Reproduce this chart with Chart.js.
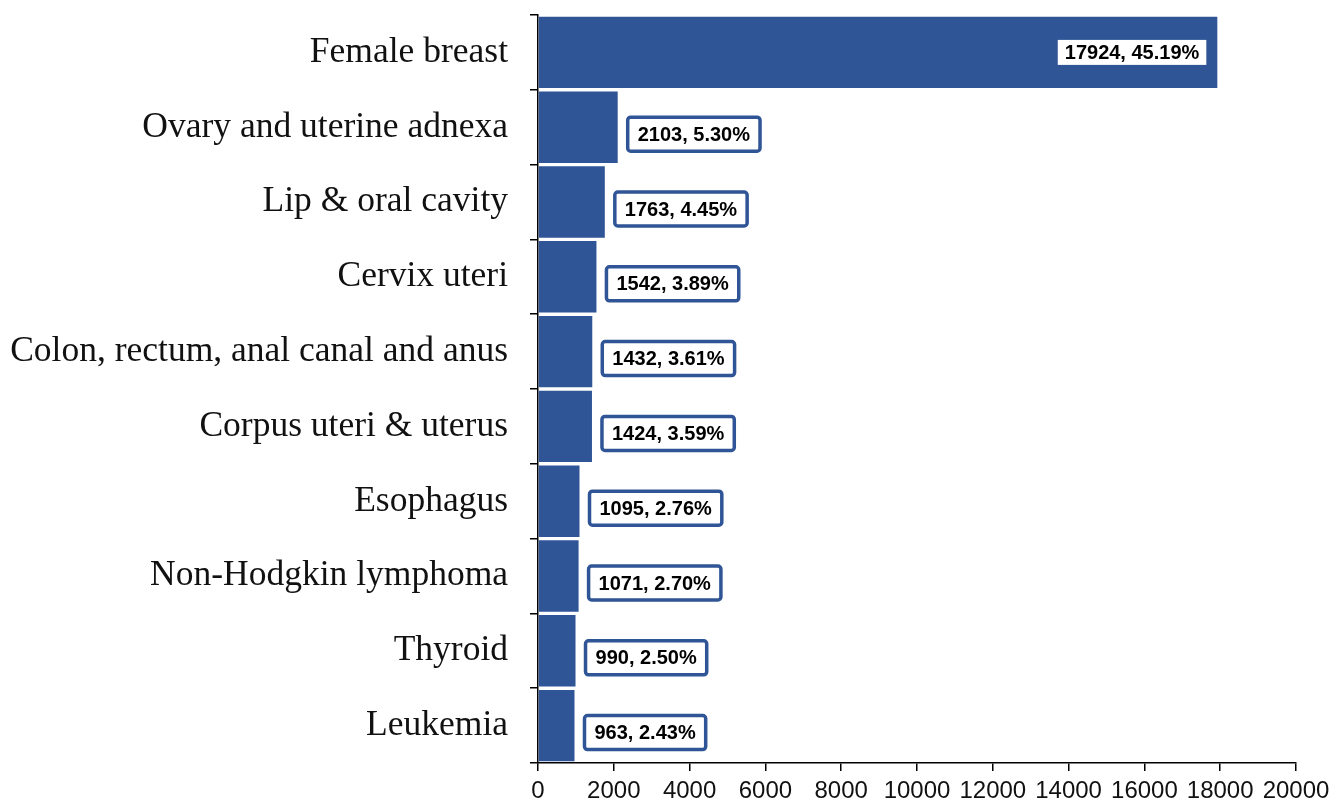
<!DOCTYPE html>
<html lang="en">
<head>
<meta charset="UTF-8">
<title>Cancer cases</title>
<script src="https://cdn.jsdelivr.net/npm/chart.js"></script>
<style>
    body { margin: 0; padding: 0; background: #ffffff; }
    #wrap { width: 1332px; height: 803px; position: relative; }
</style>
</head>
<body>
<div id="wrap"><canvas id="chart"></canvas></div>
<script>
    const categories = [
        'Female breast',
        'Ovary and uterine adnexa',
        'Lip & oral cavity',
        'Cervix uteri',
        'Colon, rectum, anal canal and anus',
        'Corpus uteri & uterus',
        'Esophagus',
        'Non-Hodgkin lymphoma',
        'Thyroid',
        'Leukemia'
    ];
    const cases = [17924, 2103, 1763, 1542, 1432, 1424, 1095, 1071, 990, 963];
    const percents = ['45.19%', '5.30%', '4.45%', '3.89%', '3.61%', '3.59%', '2.76%', '2.70%', '2.50%', '2.43%'];
    const xTicks = [0, 2000, 4000, 6000, 8000, 10000, 12000, 14000, 16000, 18000, 20000];

    const blue = '#2F5597';

    // draws the "count, percent" boxes next to (or inside) each bar
    const boxLabels = {
        id: 'boxLabels',
        afterDatasetsDraw(chart) {
            const ctx = chart.ctx;
            const meta = chart.getDatasetMeta(0);
            ctx.save();
            ctx.font = 'bold 20px "Liberation Sans", Arial, sans-serif';
            ctx.textBaseline = 'middle';
            ctx.textAlign = 'center';
            meta.data.forEach((bar, i) => {
                const text = cases[i] + ', ' + percents[i];
                const tw = ctx.measureText(text).width;
                if (i === 0) {
                    const w = tw + 14, h = 25;
                    const x = bar.x - 11 - w;
                    ctx.fillStyle = '#ffffff';
                    ctx.fillRect(x, bar.y - h / 2, w, h);
                    ctx.fillStyle = '#000';
                    ctx.fillText(text, x + w / 2, bar.y + 1);
                } else {
                    const w = tw + 20, h = 34;
                    const x = bar.x + 10;
                    const cy = bar.y + 7;
                    ctx.lineWidth = 3.5;
                    ctx.strokeStyle = blue;
                    ctx.fillStyle = '#ffffff';
                    ctx.beginPath();
                    ctx.roundRect(x, cy - h / 2, w, h, 3);
                    ctx.fill();
                    ctx.stroke();
                    ctx.fillStyle = '#000';
                    ctx.fillText(text, x + w / 2, cy + 1);
                }
            });
            ctx.restore();
        }
    };

    new Chart(document.getElementById('chart'), {
        type: 'bar',
        data: {
            labels: categories,
            datasets: [{
                data: cases,
                backgroundColor: blue,
                borderWidth: 0,
                barPercentage: 1,
                categoryPercentage: 0.955
            }]
        },
        options: {
            indexAxis: 'y',
            responsive: true,
            maintainAspectRatio: false,
            animation: false,
            events: [],
            layout: { padding: { top: 15, right: 36, left: 0, bottom: 0 } },
            plugins: { legend: { display: false }, tooltip: { enabled: false } },
            scales: {
                x: {
                    min: 0,
                    max: 20000,
                    afterBuildTicks: s => { s.ticks = xTicks.map(v => ({ value: v })); },
                    afterFit: s => { s.height = 40; s.paddingRight = 0; },
                    grid: { drawOnChartArea: false, tickLength: 8, color: '#000', lineWidth: 1.5 },
                    border: { color: '#000', width: 1.5 },
                    ticks: {
                        color: '#111',
                        padding: 6,
                        maxRotation: 0,
                        autoSkip: false,
                        callback: v => String(v),
                        font: { family: '"Liberation Sans", Arial, sans-serif', size: 24 }
                    }
                },
                y: {
                    afterFit: s => { s.width = 538; s.paddingTop = 0; s.paddingBottom = 0; },
                    grid: { drawOnChartArea: false, tickLength: 8, color: '#000', lineWidth: 1.5, offset: true },
                    border: { color: '#000', width: 1.5 },
                    ticks: {
                        color: '#111',
                        padding: 22,
                        font: { family: '"Liberation Serif", "Times New Roman", serif', size: 35.5 }
                    }
                }
            }
        },
        plugins: [boxLabels]
    });
</script>
</body>
</html>
